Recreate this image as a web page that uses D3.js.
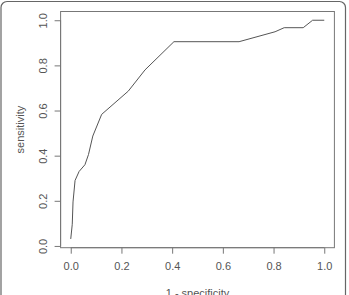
<!DOCTYPE html>
<html>
<head>
  <script src="https://d3js.org/d3.v7.min.js"></script>
  <style>
    body { margin: 0; background: #fff; }
    text { font-family: "Liberation Sans", Arial, sans-serif; fill: #555; }
  </style>
</head>
<body>
<div id="chartArea"></div>
<script>
  // ROC curve points
  var fpr = [0, 0.006, 0.009, 0.017, 0.033, 0.056, 0.07, 0.087, 0.122, 0.227, 0.293, 0.407, 0.664, 0.806, 0.842, 0.917, 0.954, 1.0];
  var tpr = [0.031, 0.096, 0.195, 0.29, 0.33, 0.36, 0.405, 0.487, 0.583, 0.686, 0.78, 0.905, 0.905, 0.949, 0.967, 0.967, 1.0, 1.0];
  var xTicks = [0, 0.2, 0.4, 0.6, 0.8, 1.0];
  var yTicks = [0, 0.2, 0.4, 0.6, 0.8, 1.0];

  var w = 349, h = 295;
  var svg = d3.select("#chartArea").append("svg").attr("width", w).attr("height", h);

  // outer frame
  svg.append("rect").attr("x", 1).attr("y", 1.5).attr("width", 344.5).attr("height", 310)
    .attr("rx", 6).attr("fill", "none").attr("stroke", "#666").attr("stroke-width", 1.2);

  var data = fpr.map(function(d, i) { return {x: d, y: tpr[i]}; });

  // R style: 4% padding around the data range
  var yMin = d3.min(tpr), yMax = d3.max(tpr), yPad = (yMax - yMin) * 0.04;
  var xScale = d3.scaleLinear().domain([0 - 0.04, 1 + 0.04]).range([60.6, 334.4]);
  var yScale = d3.scaleLinear().domain([yMin - yPad, yMax + yPad]).range([247.7, 11.5]);

  // plot box
  svg.append("rect").attr("x", xScale.range()[0]).attr("y", yScale.range()[1])
    .attr("width", xScale.range()[1] - xScale.range()[0])
    .attr("height", yScale.range()[0] - yScale.range()[1])
    .attr("fill", "none").attr("stroke", "#777").attr("stroke-width", 1);

  var xAxis = d3.axisBottom(xScale).tickValues(xTicks).tickFormat(d3.format(".1f")).tickSize(6).tickPadding(9);
  var gx = svg.append("g").attr("transform", "translate(0," + yScale.range()[0] + ")").call(xAxis);
  gx.select(".domain").attr("d", "M" + xScale(0) + ",0H" + xScale(1)).attr("stroke", "#777");
  gx.selectAll(".tick line").attr("stroke", "#777");
  gx.selectAll("text").style("font-size", "11px").attr("fill", "#555");

  var yAxis = d3.axisLeft(yScale).tickValues(yTicks).tickFormat(d3.format(".1f")).tickSize(6).tickPadding(4);
  var gy = svg.append("g").attr("transform", "translate(" + xScale.range()[0] + ",0)").call(yAxis);
  gy.select(".domain").attr("d", "M0," + yScale(0) + "V" + yScale(1)).attr("stroke", "#777");
  gy.selectAll(".tick line").attr("stroke", "#777");
  gy.selectAll("text").style("font-size", "11px").attr("fill", "#555")
    .attr("x", 0).attr("dy", 0)
    .attr("transform", "translate(-14,0) rotate(-90)")
    .style("text-anchor", "middle");

  var line = d3.line().x(function(d) { return xScale(d.x); }).y(function(d) { return yScale(d.y); });
  svg.append("path").datum(data).attr("d", line)
    .attr("fill", "none").attr("stroke", "#555").attr("stroke-width", 1);

  svg.append("text").attr("transform", "translate(24," + (yScale.range()[0] + yScale.range()[1]) / 2 + ") rotate(-90)")
    .style("text-anchor", "middle").style("font-size", "11px").text("sensitivity");
  svg.append("text").attr("x", (xScale.range()[0] + xScale.range()[1]) / 2).attr("y", 297)
    .style("text-anchor", "middle").style("font-size", "11px").text("1 - specificity");
</script>
</body>
</html>
